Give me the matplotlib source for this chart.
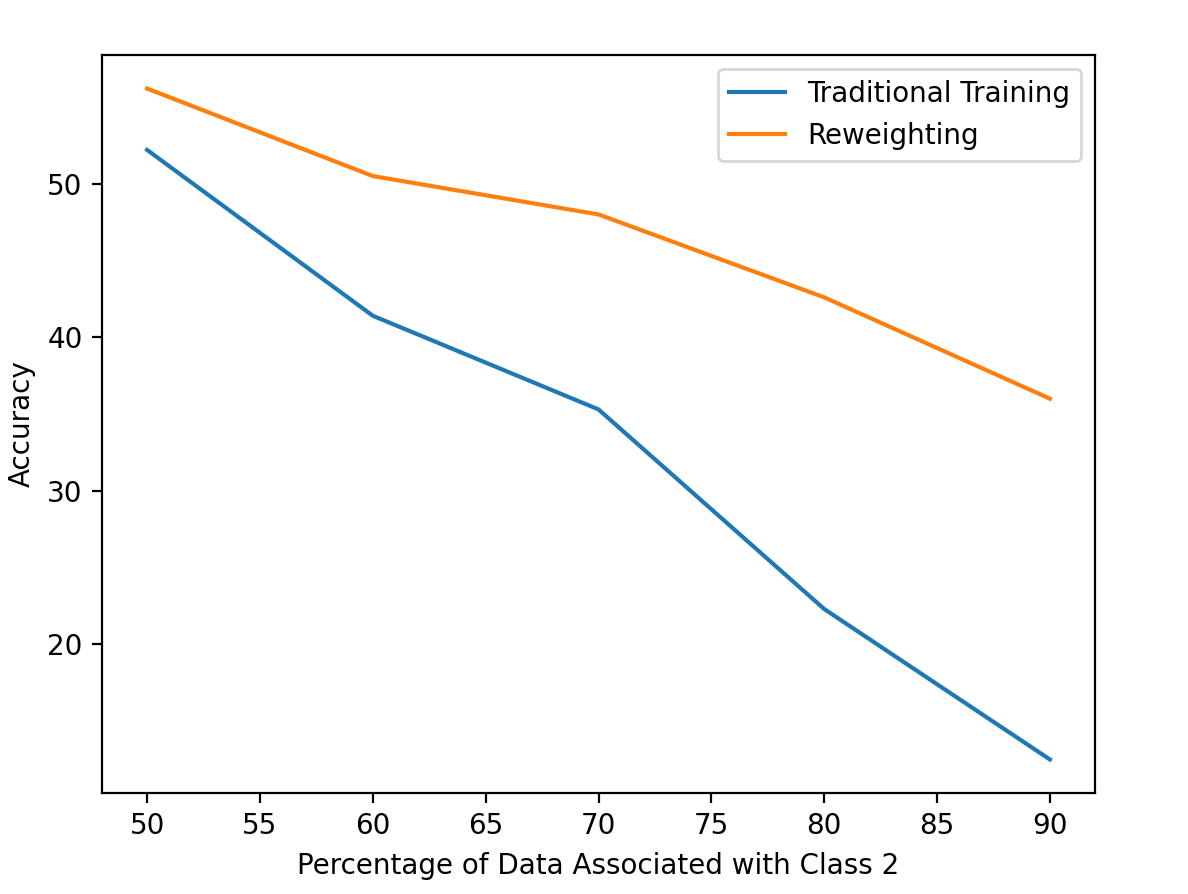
import matplotlib
matplotlib.use("Agg")
import matplotlib.pyplot as plt

# Percentage of data associated with class 2
pct = [50, 60, 70, 80, 90]
traditional_acc = [52.2, 41.4, 35.3, 22.3, 12.5]
reweighting_acc = [56.2, 50.5, 48.0, 42.6, 36.0]

W, H, DPI = 1188, 894, 200
fig = plt.figure(figsize=(W / DPI, H / DPI), dpi=DPI)
ax = fig.add_axes([102 / W, (H - 793) / H, 993 / W, 738 / H])

ax.plot(pct, traditional_acc, label="Traditional Training")
ax.plot(pct, reweighting_acc, label="Reweighting")
ax.set_xlabel("Percentage of Data Associated with Class 2")
ax.set_ylabel("Accuracy")
ax.legend()

fig.savefig("out.png", dpi=DPI)
